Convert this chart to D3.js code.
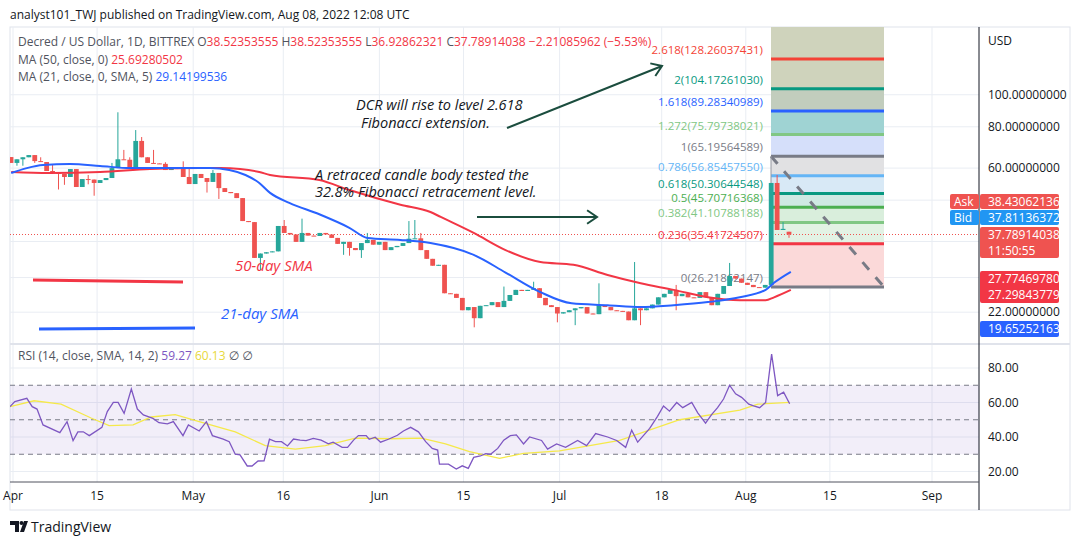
<!DOCTYPE html>
<html><head><meta charset="utf-8">
<script src="https://cdn.jsdelivr.net/npm/d3@7"></script>
<style>body{margin:0;background:#fff;font-family:"Open Sans","DejaVu Sans",sans-serif;}</style>
</head><body><svg id="c" width="1079" height="545"></svg>
<script>
// ---------- DATA ----------
const candleFirstDay = -0.3, candleLastDay = 129.3; // Mar 31 .. Aug 8 (days from Apr 1)
const closes = [62.2,63.8,64.7,65.7,63.0,62.6,58.8,58.0,57.6,56.4,59.6,52.6,55.6,55.4,54.1,55.2,56.0,60.0,63.8,63.6,
60.4,72.5,64.7,62.2,62.0,61.8,59.2,60.0,59.6,56.4,53.7,57.6,56.0,54.5,58.0,52.2,50.8,50.4,48.7,41.5,
41.2,32.1,33.1,33.4,33.6,40.1,38.2,37.8,35.9,38.2,37.5,37.4,38.2,37.8,36.9,35.4,35.9,34.4,33.9,35.6,
36.4,35.2,35.9,33.9,34.6,34.9,35.6,36.7,36.8,33.9,31.9,30.4,30.6,25.1,25.0,24.3,22.3,22.8,21.1,23.0,
23.1,23.6,22.8,23.8,24.8,25.7,25.5,25.7,26.0,24.3,23.1,22.8,21.8,22.0,22.3,22.6,22.8,21.8,21.7,23.1,
22.8,22.3,22.2,22.1,20.8,22.6,22.3,22.6,23.2,24.4,25.0,25.7,24.6,25.0,24.4,24.3,25.3,24.4,23.1,25.0,
26.4,28.3,27.8,27.0,26.6,26.2,26.1,26.6,54.1,39.0,39.3,37.78914038];
const firstOpen = 64.8;
const lastOpen = 38.52353555;
// extra wick extremes: [candleIndex, high, low]
const wicks = [[1,null,61.0],[2,null,61.0],[4,null,62.2],[5,64.7,null],[7,61.3,null],[8,null,51.7],[9,null,53.4],
[13,57.2,53.6],[14,null,49.5],[17,62.2,null],[18,88.5,null],[19,68.1,null],[20,64.7,null],[21,78.2,null],[22,74.5,null],
[24,68.1,null],[26,62.5,null],[29,62.9,null],[30,60.0,null],[33,null,50.6],[34,59.2,null],[35,null,48.4],
[42,null,29.5],[46,41.8,null],[49,42.2,null],[56,null,32.8],[57,null,32.6],[59,null,32.1],[60,38.2,null],
[67,41.5,null],[68,41.8,null],[69,38.2,null],[78,null,19.8],[83,26.3,null],[88,27.2,null],[92,null,20.5],
[95,null,20.1],[99,26.9,null],[105,31.2,20.8],[106,null,20.1],[112,26.6,22.3],[121,31.0,null],[129,57.2,null],
[130,41.2,null],[131,38.52353555,36.92862321]];
const ma21Day = [-0.3,2.3,5,9.5,14.5,19.5,26,32.8,36,38.7,41,42.8,46,51,56,59,64.5,69.5,76.7,82,87.8,93,99,104.5,110,115.7,121,125.3,126.7,129.5];
const ma21Val = [58.0,60.0,61.3,61.7,60.9,60.0,60.0,60.0,59.2,57.2,54.1,50.5,47.1,43.5,39.6,36.9,36.4,35.6,32.8,29.0,25.3,23.4,23.1,22.8,23.1,23.6,24.4,25.7,27.0,29.14199536];
const ma50Day = [-0.3,6,14.5,22.8,31,34.5,37.8,41,42.8,51,56,64.5,69.5,71.2,76.7,82,87.8,93.3,99,104.5,110,115.7,121,125.3,126.7,129.5];
const ma50Val = [58.4,58.0,58.4,59.6,60.0,60.0,59.6,58.4,57.2,55.2,51.5,46.5,44.2,42.7,38.2,33.9,31.2,30.6,28.5,26.9,25.7,24.4,23.9,23.9,24.4,25.69280502];
const rsiDay = [-0.5,0.3,2.3,3.2,4,5,7.8,9,10,10.8,11.7,12.7,14.8,15.7,16.7,17.5,18.5,19.7,20.7,21.7,23.3,24.3,25.7,26.7,28.3,29.2,31,32.2,33.2,35,36,37,37.8,39,39.8,40.8,41.8,42.7,43.7,44.7,45.7,46.7,47.8,48.8,50,51.3,52.5,53.3,54.8,55.7,56.7,57.5,58.8,59.3,60.3,61.2,62.5,64,65,66.2,67.5,68.7,69.8,70.7,71,72.5,73.8,74.8,75.8,76.7,77.8,78.7,79.5,80.7,81.7,82.8,83.8,85,86,88,89,90.5,92,94,95.5,97,99,100.5,102,103,104,106,107.3,108.3,109.3,110.5,111.5,113,114,115.3,116.3,117.3,118.3,119.3,120.3,121.3,122.5,123.3,124.3,125.3,126.3,127.3,128.3,129.3];
const rsiVal = [57.6,60.5,62.4,57.6,56.2,47,42.5,48.9,37.9,43,43,40.8,45.6,54.7,60.1,60.1,53.7,67.8,56.2,52.8,50.8,48.3,47.6,48.9,40.8,47,43.5,48.9,40.8,38.8,37.3,30,29.6,23.2,23.2,26.1,26.2,38.7,37.3,37.3,34.8,38.8,38.2,37.9,39.2,38.2,36,37,34,34,38.2,40.8,40.8,38.7,39.9,37,38.7,41,43.5,45.6,43,37.3,33.4,32.4,24.3,24.3,21.4,23.3,21.8,28.2,29,30.4,30,33.4,38.2,40.8,41.2,36,40,38,33,36,34,38,35,42,40,38,34,44,37,45,52,58,55,60,57,60,54,48,53,57,62,70,65,63,59,58,57,60,88,64,66,59.27];
const rsiMaDay = [-0.5,3.5,8,13,16,20,23,27,31,37,42,47,52,57,63,68,72,76,81,85,91,101,111,121,124,129.3];
const rsiMaVal = [57.6,61,59,51,46.6,47,51.6,53,48.9,43,35,33,35,39.4,39,39.3,36,31.5,27.6,30.5,32,38,50,55.6,59,60.13];
const fibRatios = ["0","0.236","0.382","0.5","0.618","0.786","1","1.272","1.618","2","2.618"];
const fibValues = [26.21862147,35.41724507,41.10788188,45.70716368,50.30644548,56.85457550,65.19564589,75.79738021,89.28340989,104.17261030,128.26037431];
const fibColors = ["#787b86","#f23645","#81c784","#4caf50","#089981","#64b5f6","#787b86","#81c784","#2962ff","#089981","#f44336"];
const fibFills = ["#fbd9d9","#e3f2e4","#d9eedc","#cfe9e3","#d8e9f6","#e1e1e3","#d5dffa","#9fd3d3","#c2cdbd","#cfd3bc"];
const priceTicks = [100,80,60,48,36,28,22];
const priceTickLabels = {100:"100.00000000",80:"80.00000000",60:"60.00000000",22:"22.00000000"};
const timeTickDays = [0,14,30,45,61,75,91,108,122,136,153];
const timeTickLabels = ["Apr","15","May","16","Jun","15","Jul","18","Aug","15","Sep"];
const rsiTicks = [80,60,40,20];

// ---------- LAYOUT ----------
const svg = d3.select("#c");
const L=10, R=979, PT=27, PB=343, RT=345, RB=482;
const x = d3.scaleLinear().domain([0,153]).range([13,932]);
const xc = d3.scaleLinear().domain([0,closes.length-1]).range([11,789]);
const y = d3.scaleLog().domain([fibValues[0],fibValues[10]]).range([287,59]);
const yr = d3.scaleLinear().domain([20,80]).range([471.5,368]);

svg.append("defs").append("clipPath").attr("id","pc").append("rect").attr("x",L).attr("y",PT).attr("width",R-L).attr("height",PB-PT);
svg.select("defs").append("clipPath").attr("id","rc").append("rect").attr("x",L).attr("y",RT).attr("width",R-L).attr("height",RB-RT);

svg.append("rect").attr("x",L).attr("y",PT).attr("width",1060).attr("height",483).attr("fill","none").attr("stroke","#e0e3eb");
const grid = svg.append("g").attr("stroke","#e9edf3").attr("stroke-width",1);
timeTickDays.forEach(d=>{grid.append("line").attr("x1",x(d)).attr("x2",x(d)).attr("y1",PT).attr("y2",RB);});
priceTicks.forEach(v=>grid.append("line").attr("x1",L).attr("x2",R).attr("y1",y(v)).attr("y2",y(v)));
rsiTicks.forEach(v=>grid.append("line").attr("x1",L).attr("x2",R).attr("y1",yr(v)).attr("y2",yr(v)));
svg.append("line").attr("x1",L).attr("x2",1070).attr("y1",PB+1).attr("y2",PB+1).attr("stroke","#e0e3eb").attr("stroke-width",2);

// fib box
const fx0=771, fx1=884;
const fg = svg.append("g").attr("clip-path","url(#pc)");
fg.append("rect").attr("x",fx0).attr("y",PT).attr("width",fx1-fx0).attr("height",y(fibValues[10])-PT).attr("fill","#cfd3bc");
for(let i=0;i<10;i++){
  fg.append("rect").attr("x",fx0).attr("y",y(fibValues[i+1])).attr("width",fx1-fx0)
    .attr("height",y(fibValues[i])-y(fibValues[i+1])).attr("fill",fibFills[i]);
}
fibValues.forEach((v,i)=>{
  fg.append("line").attr("x1",fx0).attr("x2",fx1).attr("y1",y(v)).attr("y2",y(v)).attr("stroke",fibColors[i]).attr("stroke-width",3);
  svg.append("text").attr("x",763).attr("y",y(v)-5).attr("text-anchor","end").attr("font-size",11.5).attr("fill",fibColors[i])
    .text(fibRatios[i]+"("+v.toFixed(8)+")");
});
fg.append("line").attr("x1",fx0).attr("y1",y(fibValues[6])).attr("x2",fx1).attr("y2",y(fibValues[0]))
  .attr("stroke","#787b86").attr("stroke-width",3).attr("stroke-dasharray","10,10");
fg.append("line").attr("x1",fx0).attr("x2",fx0).attr("y1",y(fibValues[6])).attr("y2",y(fibValues[0])).attr("stroke","#9598a1").attr("stroke-width",1);

svg.append("line").attr("x1",L).attr("x2",R).attr("y1",y(37.78914038)).attr("y2",y(37.78914038))
  .attr("stroke","#ef5350").attr("stroke-dasharray","1,2");

// candles
const cg = svg.append("g").attr("clip-path","url(#pc)");
const candles = closes.map((c,i)=>{
  let o = i===0?firstOpen:(i===closes.length-1?lastOpen:closes[i-1]);
  return {i,o,c,h:Math.max(o,c),l:Math.min(o,c)};
});
wicks.forEach(([i,h,l])=>{ if(h!=null) candles[i].h=Math.max(candles[i].h,h); if(l!=null) candles[i].l=Math.min(candles[i].l,l); });
candles.forEach(k=>{
  const col = k.c>=k.o?"#26a69a":"#ef5350";
  const cx = xc(k.i);
  cg.append("line").attr("x1",cx).attr("x2",cx).attr("y1",y(k.h)).attr("y2",y(k.l)).attr("stroke",col).attr("stroke-width",1);
  const yt=y(Math.max(k.o,k.c)), yb=y(Math.min(k.o,k.c));
  cg.append("rect").attr("x",cx-2.4).attr("y",yt).attr("width",4.8).attr("height",Math.max(1,yb-yt)).attr("fill",col);
});
const line = d3.line().curve(d3.curveMonotoneX);
cg.append("path").attr("d",line(ma50Day.map((d,i)=>[x(d),y(ma50Val[i])]))).attr("fill","none").attr("stroke","#f23645").attr("stroke-width",2);
cg.append("path").attr("d",line(ma21Day.map((d,i)=>[x(d),y(ma21Val[i])]))).attr("fill","none").attr("stroke","#2962ff").attr("stroke-width",2);

svg.append("line").attr("x1",33).attr("y1",280).attr("x2",183).attr("y2",282).attr("stroke","#f23645").attr("stroke-width",3);
svg.append("line").attr("x1",39).attr("y1",329).attr("x2",195).attr("y2",328).attr("stroke","#2962ff").attr("stroke-width",3);
svg.append("text").attr("x",235).attr("y",271).attr("font-size",15).attr("font-style","italic").attr("fill","#f23645").text("50-day SMA");
svg.append("text").attr("x",221).attr("y",319).attr("font-size",15).attr("font-style","italic").attr("fill","#2962ff").text("21-day SMA");
const an = svg.append("g").attr("font-size",14.5).attr("font-style","italic").attr("fill","#131722");
an.append("text").attr("x",356).attr("y",110).text("DCR will rise to level 2.618");
an.append("text").attr("x",361).attr("y",128).text("Fibonacci extension.");
an.append("text").attr("x",315).attr("y",180).text("A retraced candle body tested the");
an.append("text").attr("x",315).attr("y",197).text("32.8% Fibonacci retracement level.");
function arrow(x1,y1,x2,y2){
  const g=svg.append("g").attr("stroke","#1b4d3e").attr("stroke-width",2).attr("fill","none");
  g.append("line").attr("x1",x1).attr("y1",y1).attr("x2",x2).attr("y2",y2);
  const a=Math.atan2(y2-y1,x2-x1), s=12;
  g.append("path").attr("d",`M${x2-s*Math.cos(a-0.6)},${y2-s*Math.sin(a-0.6)}L${x2},${y2}L${x2-s*Math.cos(a+0.6)},${y2-s*Math.sin(a+0.6)}`);
}
arrow(477,217,597,217);
arrow(507,128,662,66);

// RSI pane
const rg = svg.append("g").attr("clip-path","url(#rc)");
rg.append("rect").attr("x",L).attr("y",yr(70)).attr("width",R-L).attr("height",yr(30)-yr(70)).attr("fill","#7e57c2").attr("opacity",0.1);
[70,50,30].forEach(v=>rg.append("line").attr("x1",L).attr("x2",R).attr("y1",yr(v)).attr("y2",yr(v)).attr("stroke","#787b86").attr("stroke-dasharray","5,4"));
rg.append("path").attr("d",d3.line()(rsiMaDay.map((d,i)=>[x(d),yr(rsiMaVal[i])]))).attr("fill","none").attr("stroke","#f5e94a").attr("stroke-width",1.3);
rg.append("path").attr("d",d3.line()(rsiDay.map((d,i)=>[x(d),yr(rsiVal[i])]))).attr("fill","none").attr("stroke","#7e57c2").attr("stroke-width",1.3);

// axes
svg.append("line").attr("x1",R).attr("x2",R).attr("y1",PT).attr("y2",510).attr("stroke","#131722");
svg.append("line").attr("x1",L).attr("x2",R).attr("y1",RB).attr("y2",RB).attr("stroke","#50535e");
const ax = svg.append("g").attr("font-size",12).attr("fill","#131722");
timeTickDays.forEach((d,i)=>ax.append("text").attr("x",x(d)).attr("y",500).attr("text-anchor","middle").text(timeTickLabels[i]));
priceTicks.forEach(v=>{ if(priceTickLabels[v]) ax.append("text").attr("x",988).attr("y",y(v)+4).text(priceTickLabels[v]); });
ax.append("text").attr("x",988).attr("y",45).text("USD");
rsiTicks.forEach(v=>ax.append("text").attr("x",988).attr("y",yr(v)+4).text(v.toFixed(2)));
function tag(yc,h,bg,lines){
  svg.append("rect").attr("x",980).attr("y",yc).attr("width",79).attr("height",h).attr("rx",2).attr("fill",bg);
  lines.forEach((t,i)=>svg.append("text").attr("x",988).attr("y",yc+12+i*16).attr("font-size",12).attr("fill","#fff").text(t));
}
tag(194,15,"#ef5350",["38.43062136"]);
tag(210,15,"#2196f3",["37.81136372"]);
tag(227,31,"#ef5350",["37.78914038","11:50:55"]);
tag(271,32,"#f23645",["27.77469780","27.29843779"]);
tag(321,16,"#2962ff",["19.65252163"]);
svg.append("rect").attr("x",950).attr("y",194).attr("width",29).attr("height",15).attr("rx",2).attr("fill","#ef5350");
svg.append("text").attr("x",954).attr("y",206).attr("font-size",12).attr("fill","#fff").text("Ask");
svg.append("rect").attr("x",950).attr("y",210).attr("width",29).attr("height",15).attr("rx",2).attr("fill","#2196f3");
svg.append("text").attr("x",954).attr("y",222).attr("font-size",12).attr("fill","#fff").text("Bid");

// header & legends
svg.append("text").attr("x",10).attr("y",19).attr("font-size",12).attr("fill","#131722").text("analyst101_TWJ published on TradingView.com, Aug 08, 2022 12:08 UTC");
const lg = svg.append("text").attr("x",18).attr("y",46).attr("font-size",12).attr("fill","#50535e");
lg.append("tspan").text("Decred / US Dollar, 1D, BITTREX  O");
lg.append("tspan").attr("fill","#f23645").text("38.52353555");
lg.append("tspan").text("  H");
lg.append("tspan").attr("fill","#f23645").text("38.52353555");
lg.append("tspan").text("  L");
lg.append("tspan").attr("fill","#f23645").text("36.92862321");
lg.append("tspan").text("  C");
lg.append("tspan").attr("fill","#f23645").text("37.78914038  −2.21085962 (−5.53%)");
const l2 = svg.append("text").attr("x",18).attr("y",64).attr("font-size",12).attr("fill","#50535e");
l2.append("tspan").text("MA (50, close, 0)  "); l2.append("tspan").attr("fill","#f23645").text("25.69280502");
const l3 = svg.append("text").attr("x",18).attr("y",81).attr("font-size",12).attr("fill","#50535e");
l3.append("tspan").text("MA (21, close, 0, SMA, 5)  "); l3.append("tspan").attr("fill","#2962ff").text("29.14199536");
const l4 = svg.append("text").attr("x",18).attr("y",360).attr("font-size",12).attr("fill","#50535e");
l4.append("tspan").text("RSI (14, close, SMA, 14, 2)  "); l4.append("tspan").attr("fill","#7e57c2").text("59.27");
l4.append("tspan").attr("fill","#e8d93a").text("  60.13"); l4.append("tspan").text("  ∅  ∅");

svg.append("path").attr("d","M10,521h9v11h-4v-7h-5z").attr("fill","#131722");
svg.append("circle").attr("cx",21.5).attr("cy",523).attr("r",2).attr("fill","#131722");
svg.append("path").attr("d","M24,521h4l-4,11h-4z").attr("fill","#131722");
svg.append("text").attr("x",31).attr("y",532).attr("font-size",14).attr("fill","#131722").text("TradingView");
</script></body></html>
